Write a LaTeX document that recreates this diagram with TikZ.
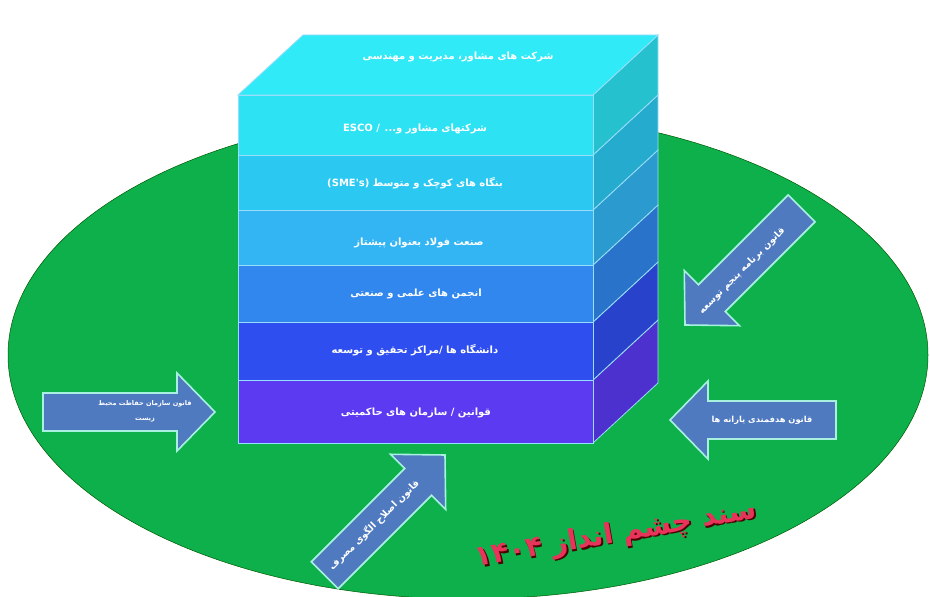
\documentclass[tikz,border=0pt]{standalone}
\usepackage{fontspec}
\usepackage{tikz}
\TeXXeTstate=1
\newfontfamily\farsi[Script=Arabic]{DejaVu Sans}

\definecolor{fieldgreen}{HTML}{0DB04B}
\definecolor{topcyan}{HTML}{30EAF8}
\definecolor{escocol}{HTML}{2DE3F3}
\definecolor{smecol}{HTML}{2BC9F2}
\definecolor{steelcol}{HTML}{33B5F4}
\definecolor{assoccol}{HTML}{3187EE}
\definecolor{unicol}{HTML}{2F4EF0}
\definecolor{lawcol}{HTML}{5B3AF2}
\definecolor{arrowfill}{HTML}{4F7AC0}
\definecolor{arrowline}{HTML}{A8F0E0}
\definecolor{visionred}{HTML}{E8335A}

\tikzset{
  face/.style={draw=white!60!cyan, line width=0.8pt},
  lawarrow/.style={fill=arrowfill, draw=arrowline, line width=1.6pt, line join=miter},
  layertext/.style={text=white, font=\farsi\bfseries\fontsize{10}{12}\selectfont},
  arrowtext/.style={text=white, font=\farsi\bfseries\fontsize{8.3}{10}\selectfont, align=center}
}

% block arrow: tip, direction, length
\newcommand{\blockarrow}[3]{%
  \draw[lawarrow, shift={#1}, rotate=#2] (0,0) -- (-38,39) -- (-38,19) -- (-#3,19)
    -- (-#3,-19) -- (-38,-19) -- (-38,-39) -- cycle;}

% one layer of the stack: bottom, top, colour
\newcommand{\stacklayer}[3]{%
  \fill[#3!85!black, face] (593,#1) -- (593,#2) -- (658,#2+60) -- (658,#1+60) -- cycle;
  \fill[#3, face] (238,#1) rectangle (593,#2);}

\begin{document}
\begin{tikzpicture}[x=1pt, y=1pt]
  \useasboundingbox (0,0) rectangle (930,597);
  \fill[white] (0,0) rectangle (930,597);

  % field
  \draw[fill=fieldgreen, draw=green!35!black, line width=0.5pt] (468,242) ellipse (460 and 244);

  % stack
  \stacklayer{154}{217}{lawcol}
  \stacklayer{217}{275}{unicol}
  \stacklayer{275}{332}{assoccol}
  \stacklayer{332}{387}{steelcol}
  \stacklayer{387}{442}{smecol}
  \stacklayer{442}{502}{escocol}
  \fill[topcyan, face] (238,502) -- (593,502) -- (658,562) -- (303,562) -- cycle;

  \node[layertext] (consult) at (458,540) {\beginR شرکت های مشاور، مدیریت و مهندسی\endR};
  \node[layertext] (esco) at (415,468) {\beginR شرکتهای مشاور و... / \beginL ESCO\endL\endR};
  \node[layertext] (sme) at (415,414) {\beginR بنگاه های کوچک و متوسط (\beginL SME's\endL)\endR};
  \node[layertext] (steel) at (419,354) {\beginR صنعت فولاد بعنوان پیشتاز\endR};
  \node[layertext] (assoc) at (416,303) {\beginR انجمن های علمی و صنعتی\endR};
  \node[layertext] (uni) at (415,247) {\beginR دانشگاه ها /مراکز تحقیق و توسعه\endR};
  \node[layertext] (laws) at (416,184) {\beginR قوانین / سازمان های حاکمیتی\endR};

  % law arrows
  \blockarrow{(215,185)}{0}{172}
  \blockarrow{(670,177)}{180}{166}
  \blockarrow{(685,272)}{225}{165}
  \blockarrow{(445,142)}{45}{170}

  \node[arrowtext, font=\farsi\bfseries\fontsize{6.5}{15}\selectfont] (envlaw) at (145,186) {\beginR قانون سازمان حفاظت محیط\endR\\ \beginR زیست\endR};
  \node[arrowtext] (subsidy) at (762,177) {\beginR قانون هدفمندی یارانه ها\endR};
  \node[arrowtext, rotate=45, font=\farsi\bfseries\fontsize{9.5}{11}\selectfont] (fifthplan) at (742,326) {\beginR قانون برنامه پنجم توسعه\endR};
  \node[arrowtext, rotate=45, font=\farsi\bfseries\fontsize{9.5}{11}\selectfont] (consume) at (374,72) {\beginR قانون اصلاح الگوی مصرف\endR};

  % vision document
  \node[rotate=10, text=black!70!red, font=\farsi\bfseries\fontsize{28}{32}\selectfont] at (617.5,60.5) {\beginR سند چشم انداز ۱۴۰۴\endR};
  \node[rotate=10, text=visionred, font=\farsi\bfseries\fontsize{28}{32}\selectfont] (vision) at (616,62) {\beginR سند چشم انداز ۱۴۰۴\endR};
\end{tikzpicture}
\end{document}
